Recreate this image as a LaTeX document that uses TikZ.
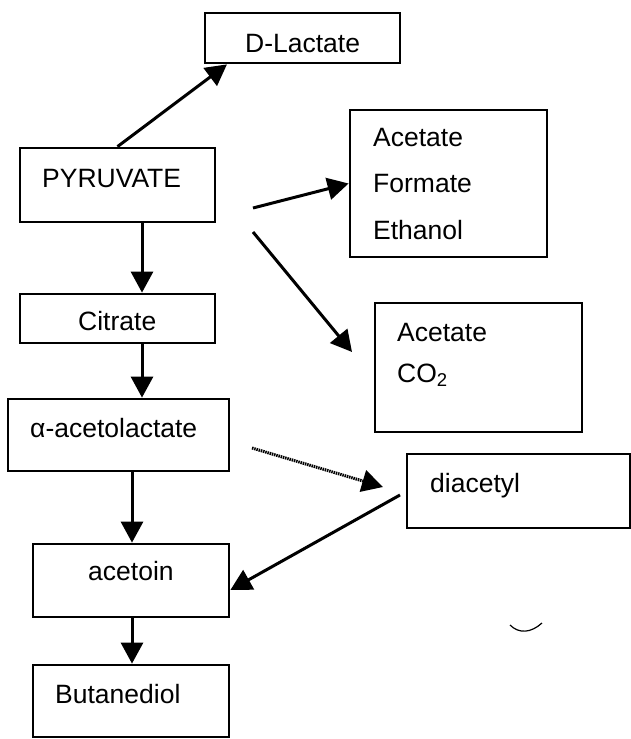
\documentclass[tikz,border=0pt]{standalone}
\usepackage{fontspec}
\setmainfont{Liberation Sans}
\usepackage{tikz}
\usetikzlibrary{arrows.meta}
\usetikzlibrary{calc}

\tikzset{
    box/.style={draw, line width=2.8pt, inner sep=0pt},
    lbl/.style={anchor=base west, inner sep=0pt, font=\fontsize{26.5}{30}\selectfont},
    arr/.style={line width=3pt, -{Triangle[length=21pt,width=22pt]}},
}

\begin{document}
\begin{tikzpicture}[x=1pt,y=-1pt]
    \useasboundingbox (0,0) rectangle (631,739);

    \node[box, minimum width=195pt, minimum height=50pt] (dlac) at (302.5,38) {};
    \node[box, minimum width=195pt, minimum height=74pt] (pyr) at (117.5,185) {};
    \node[box, minimum width=197pt, minimum height=147pt] (afe) at (448.5,183.5) {};
    \node[box, minimum width=207pt, minimum height=129pt] (acco) at (478.5,367.5) {};
    \node[box, minimum width=195pt, minimum height=49pt] (cit) at (117.5,318.5) {};
    \node[box, minimum width=221pt, minimum height=72pt] (alpha) at (118.5,435) {};
    \node[box, minimum width=223pt, minimum height=74pt] (dia) at (518.5,491) {};
    \node[box, minimum width=196pt, minimum height=73pt] (acet) at (131,580.5) {};
    \node[box, minimum width=196pt, minimum height=72pt] (but) at (131,701) {};

    \node[lbl] (dlact) at (245,52) {D-Lactate};
    \node[lbl] (pyrt) at (42,187) {PYRUVATE};
    \node[lbl] (afe1) at (373,146) {Acetate};
    \node[lbl] (afe2) at (373,192) {Formate};
    \node[lbl] (afe3) at (373,239) {Ethanol};
    \node[lbl] (acco1) at (397,341) {Acetate};
    \node[lbl] (acco2) at (397,382) {CO\textsubscript{2}};
    \node[lbl] (citt) at (78,330) {Citrate};
    \node[lbl] (alphat) at (30,437) {α-acetolactate};
    \node[lbl] (diat) at (430,492) {diacetyl};
    \node[lbl] (acett) at (88,580) {acetoin};
    \node[lbl] (butt) at (55,703) {Butanediol};

    \coordinate (p1) at (253,208);
    \coordinate (p2) at (253,232);
    \coordinate (q2) at (352,352);
    \coordinate (a1) at (252,448);
    \coordinate (d1) at (383,487);
    \coordinate (d2) at (400,495);

    \draw[arr] (pyr.north) -- ($(dlac.south west)!0.118!(dlac.south east)$);
    \draw[arr] (p1) -- (afe.west);
    \draw[arr] (p2) -- (q2);
    \draw[arr] ([xshift=24.5pt]pyr.south) -- ([xshift=24.5pt]cit.north);
    \draw[arr] ([xshift=24.5pt]cit.south) -- ([xshift=23.5pt]alpha.north);
    \draw[arr] ([xshift=13.5pt]alpha.south) -- ([xshift=1pt]acet.north);
    \draw[arr] ([xshift=1pt]acet.south) -- ([xshift=1pt]but.north);
    \draw[arr, dash pattern=on 1.5pt off 0.8pt] (a1) -- (d1);
    \draw[arr] (d2) -- ([yshift=-9.5pt]acet.east);

    \draw[line width=1.2pt] (510,625) .. controls (519,634) and (531,633) .. (542,623);
\end{tikzpicture}
\end{document}
